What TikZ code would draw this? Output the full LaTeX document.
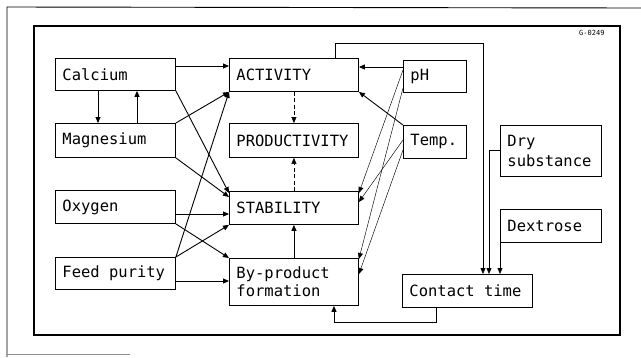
\documentclass[tikz,border=0pt]{standalone}
\usepackage{fontspec}
\setmonofont{DejaVu Sans Mono}[WordSpace={1,0,0}]
\usetikzlibrary{arrows.meta}
% one character cell of the box font, used as a fixed word gap
\newcommand{\cellgap}{\hspace{9.33pt}}
\begin{document}
\begin{tikzpicture}[x=1pt,y=-1pt,
  box/.style={draw, line width=0.9pt, rectangle, anchor=north west,
    inner xsep=7pt, inner ysep=2pt, align=left,
    font=\ttfamily\fontsize{15.5}{18}\selectfont},
  link/.style={line width=0.9pt, -{Triangle[length=6pt,width=5pt]}},
  faint/.style={line width=0.45pt, -{Triangle[length=6pt,width=5pt]}},
  dashlink/.style={faint, dash pattern=on 4pt off 2.5pt},
]
% page area
\fill[white] (0,0) rectangle (641,357);
\useasboundingbox (0,0) rectangle (641,357);

% outer and inner frames
\draw[line width=0.9pt] (7,357) -- (7,7) -- (641,8);
\draw[line width=0.5pt, black!45] (7,354) -- (130,354);
\draw[line width=1.3pt] (34,26) rectangle (620,335);
\node[font=\ttfamily\fontsize{7}{8}\selectfont, anchor=east] (code) at (608,33) {G-0249};

% input factors (left column)
\node[box, text width=106pt, minimum height=32pt] (calcium)   at (55,58)  {Calcium};
\node[box, text width=106pt, minimum height=34pt] (magnesium) at (55,123) {Magnesium};
\node[box, text width=106pt, minimum height=33pt] (oxygen)    at (55,190) {Oxygen};
\node[box, text width=106pt, minimum height=32pt] (feed)      at (55,257) {Feed\cellgap purity};

% enzyme properties (middle column)
\node[box, text width=115pt, minimum height=33pt] (activity)     at (229,58)  {ACTIVITY};
\node[box, text width=115pt, minimum height=34pt] (productivity) at (229,123) {PRODUCTIVITY};
\node[box, text width=115pt, minimum height=33pt] (stability)    at (229,191) {STABILITY};
\node[box, text width=115pt, minimum height=47pt] (byproduct)    at (229,258) {By-product\\formation};

% process conditions (right)
\node[box, text width=49pt,  minimum height=32pt] (ph)       at (403,60)  {pH};
\node[box, text width=49pt,  minimum height=33pt] (temp)     at (403,125) {Temp.};
\node[box, text width=87pt,  minimum height=51pt, font=\ttfamily\fontsize{15.5}{20}\selectfont] (dry) at (500,125) {Dry\\substance};
\node[box, text width=87pt,  minimum height=33pt] (dextrose) at (500,209) {Dextrose};
\node[box, text width=116pt, minimum height=33pt] (contact)  at (402,274) {Contact\cellgap time};

% helper points for routed connectors
\coordinate (y66)  at (0,66);
\coordinate (y67)  at (0,67);
\coordinate (y70)  at (0,70);
\coordinate (y88)  at (0,88);
\coordinate (y140) at (0,140);
\coordinate (y150) at (0,150);
\coordinate (y193) at (0,193);
\coordinate (y197) at (0,197);
\coordinate (y202) at (0,202);
\coordinate (y214) at (0,214);
\coordinate (y259) at (0,259);
\coordinate (y274) at (0,274);
\coordinate (y281) at (0,281);
\coordinate (cmx)  at (98,0);
\coordinate (mcx)  at (137,0);
\coordinate (al)   at (335,43);
\coordinate (ar)   at (483,43);
\coordinate (dx)   at (489,150);
\coordinate (cb1)  at (436,322);
\coordinate (cb2)  at (334,322);

% calcium / magnesium interplay
\draw[link] (calcium.south -| cmx) -- (magnesium.north -| cmx);
\draw[link] (magnesium.north -| mcx) -- (calcium.south -| mcx);

% inputs to properties
\draw[link] (calcium.east |- y66) -- (activity.west |- y66);
\draw[link] (calcium.south east) -- (stability.west |- y193);
\draw[link] (magnesium.north east) -- (activity.south west);
\draw[link] (magnesium.south east) -- (stability.west |- y197);
\draw[link] (oxygen.east |- y214) -- (stability.west |- y214);
\draw[link] (oxygen.south east) -- (byproduct.north west);
\draw[link] (feed.north east) -- (activity.south west);
\draw[link] (feed.north east) -- (stability.south west);
\draw[link] (feed.east |- y281) -- (byproduct.west |- y281);

% between properties
\draw[dashlink] (activity.south) -- (productivity.north);
\draw[dashlink] (stability.north) -- (productivity.south);
\draw[link] (byproduct.north) -- (stability.south);

% pH and temperature
\draw[link] (ph.west |- y67) -- (activity.east |- y67);
\draw[link] (temp.north west) -- (activity.south east);
\draw[faint] (ph.west |- y70) -- (stability.east |- y193);
\draw[faint] (ph.west |- y88) -- (byproduct.east |- y259);
\draw[faint] (temp.west |- y140) -- (stability.east |- y202);
\draw[faint] (temp.west |- y150) -- (byproduct.east |- y274);

% contact time
\draw[line width=0.9pt] (activity.north -| al) -- (al) -- (ar);
\draw[faint] (ar) -- (contact.north -| ar);
\draw[faint] (dry.west |- dx) -- (dx) -- (contact.north -| dx);
\draw[faint] (dextrose.south west) -- (contact.north -| dextrose.south west);
\draw[link] (contact.south -| cb1) -- (cb1) -- (cb2) -- (byproduct.south -| cb2);
\end{tikzpicture}
\end{document}
